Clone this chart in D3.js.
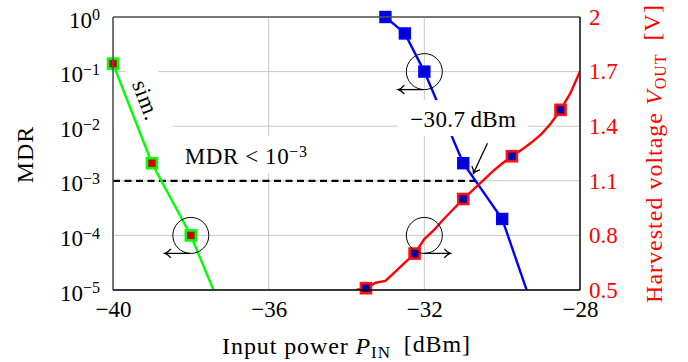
<!DOCTYPE html>
<html>
<head>
<meta charset="utf-8">
<script src="https://cdn.jsdelivr.net/npm/d3@7"></script>
<style>
  body { margin: 0; background: #fff; }
  svg { display: block; }
  text { font-family: "Liberation Serif", "Times New Roman", serif; }
</style>
</head>
<body>
<div id="chart"></div>
<script>
// Ticks
const pinTicks = [-40, -36, -32, -28];
const mdrTicks = [1e-5, 1e-4, 1e-3, 1e-2, 1e-1, 1];
const voutTicks = [0.5, 0.8, 1.1, 1.4, 1.7, 2];

// MDR, simulation (green)
const simPin = [-40, -39, -38, -37];
const simMdr = [0.14, 2.1e-3, 1e-4, 1.9e-6];

// MDR, measured (blue)
const measPin = [-33, -32.5, -32, -31, -30, -29];
const measMdr = [1, 0.5, 0.1, 2.1e-3, 2e-4, 1.7e-6];

// Harvested voltage (red)
const voutPin = [-33.75, -33.5, -33.25, -33, -32.75, -32.5, -32.25, -32, -31.75, -31.5, -31.25, -31,
                 -30.75, -30.5, -30.25, -30, -29.75, -29.5, -29.25, -29, -28.75, -28.5, -28.25, -28];
const vout = [0.50, 0.51, 0.54, 0.55, 0.60, 0.65, 0.70, 0.78, 0.83, 0.89, 0.945, 1.00,
              1.05, 1.10, 1.15, 1.195, 1.235, 1.27, 1.31, 1.355, 1.415, 1.49, 1.58, 1.70];
const voutMarkPin = [-33.5, -32.25, -31, -29.75, -28.5];

const mdrTarget = 1e-3;
const crossPin = -30.7;

// dimensions
const margin = {top: 17, right: 108, bottom: 72, left: 113},
    width = 688 - margin.left - margin.right,
    height = 362 - margin.top - margin.bottom;

const svg = d3.select("#chart").append("svg")
    .attr("width", 688).attr("height", 362)
  .append("g")
    .attr("transform", `translate(${margin.left},${margin.top})`);

const x = d3.scaleLinear().domain([-40, -28]).range([0, width]);
const yL = d3.scaleLog().domain([1e-5, 1]).range([height, 0]);
const yR = d3.scaleLinear().domain([0.5, 2]).range([height, 0]);

svg.append("clipPath").attr("id", "clip")
  .append("rect").attr("width", width).attr("height", height);

// grid
svg.append("g").selectAll("line").data(pinTicks).join("line")
    .attr("x1", d => x(d)).attr("x2", d => x(d))
    .attr("y1", 0).attr("y2", height)
    .attr("stroke", "#c8c8c8").attr("stroke-width", 1);
svg.append("g").selectAll("line").data(mdrTicks).join("line")
    .attr("x1", 0).attr("x2", width)
    .attr("y1", d => yL(d)).attr("y2", d => yL(d))
    .attr("stroke", "#c8c8c8").attr("stroke-width", 1);

// white boxes behind labels
const simLab = svg.append("g").attr("clip-path", "url(#clip)")
  .append("g")
    .attr("transform", `translate(${x(-39.15)},${yL(0.030)}) rotate(69)`);
simLab.append("rect").attr("x", -34).attr("y", -22).attr("width", 68).attr("height", 64).attr("fill", "#fff");

const mdrLab = svg.append("g").attr("transform", `translate(${x(-36.58)},${yL(0.0028)})`);
mdrLab.append("rect").attr("x", -74).attr("y", -21).attr("width", 148).attr("height", 38).attr("fill", "#fff");

// dashed target line
svg.append("line")
    .attr("x1", x(-40)).attr("x2", x(crossPin))
    .attr("y1", yL(mdrTarget)).attr("y2", yL(mdrTarget))
    .attr("stroke", "#000").attr("stroke-width", 2.2)
    .attr("stroke-dasharray", "7,4.5");

const plot = svg.append("g").attr("clip-path", "url(#clip)");

const lineL = d3.line().x(d => x(d[0])).y(d => yL(d[1]));
const lineR = d3.line().x(d => x(d[0])).y(d => yR(d[1]));

plot.append("path").datum(d3.zip(simPin, simMdr))
    .attr("d", lineL).attr("fill", "none")
    .attr("stroke", "#00ff00").attr("stroke-width", 2.4);
plot.append("path").datum(d3.zip(measPin, measMdr))
    .attr("d", lineL).attr("fill", "none")
    .attr("stroke", "#0000ff").attr("stroke-width", 2.4);
plot.append("path").datum(d3.zip(voutPin, vout))
    .attr("d", lineR).attr("fill", "none")
    .attr("stroke", "#ff0000").attr("stroke-width", 2.4);

// markers
const inL = d => d[1] >= 1e-5;
svg.append("g").selectAll("rect").data(d3.zip(simPin, simMdr).filter(inL)).join("rect")
    .attr("x", d => x(d[0]) - 5).attr("y", d => yL(d[1]) - 5)
    .attr("width", 10).attr("height", 10)
    .attr("fill", "#cc0000").attr("stroke", "#00ff00").attr("stroke-width", 2.6);
svg.append("g").selectAll("rect").data(d3.zip(measPin, measMdr).filter(inL)).join("rect")
    .attr("x", d => x(d[0]) - 5).attr("y", d => yL(d[1]) - 5)
    .attr("width", 10).attr("height", 10)
    .attr("fill", "#0000cc").attr("stroke", "#0000ff").attr("stroke-width", 2.4);
const redMarks = d3.zip(voutPin, vout).filter(d => voutMarkPin.includes(d[0]));
svg.append("g").selectAll("rect").data(redMarks).join("rect")
    .attr("x", d => x(d[0]) - 5).attr("y", d => yR(d[1]) - 5)
    .attr("width", 10).attr("height", 10)
    .attr("fill", "#0000aa").attr("stroke", "#ff1010").attr("stroke-width", 2.6);

// -30.7 dBm label box (covers blue line)
const crossLab = svg.append("g").attr("transform", `translate(${x(-31)},${yL(0.0135)})`);
crossLab.append("rect").attr("x", -65).attr("y", -19).attr("width", 130).attr("height", 36).attr("fill", "#fff");
crossLab.append("text").attr("text-anchor", "middle").attr("dy", "0.33em")
    .attr("font-size", 23).attr("letter-spacing", 0.4).text("\u221230.7\u2009dBm");

// arrow head
const defs = svg.append("defs");
defs.append("marker").attr("id", "arr")
    .attr("viewBox", "-8 -6 10 12").attr("markerWidth", 10).attr("markerHeight", 12)
    .attr("refX", 0).attr("refY", 0).attr("orient", "auto").attr("markerUnits", "userSpaceOnUse")
  .append("path").attr("d", "M-6,-4.5 Q-3,-0.8 0,0 Q-3,0.8 -6,4.5")
    .attr("fill", "none").attr("stroke", "#000").attr("stroke-width", 1.3);

// circles with arrows
const r = 18;
const circles = [
  {cx: x(-38), cy: yL(1e-4), dir: -1},
  {cx: x(-32), cy: yL(0.1), dir: -1},
  {cx: x(-32), cy: yR(0.8), dir: 1}
];
circles.forEach(c => {
  svg.append("circle").attr("cx", c.cx).attr("cy", c.cy).attr("r", r)
      .attr("fill", "none").attr("stroke", "#000").attr("stroke-width", 1);
  svg.append("line")
      .attr("x1", c.cx - (c.dir < 0 ? 1 : 0)).attr("x2", c.cx + c.dir * 26)
      .attr("y1", c.cy + r).attr("y2", c.cy + r)
      .attr("stroke", "#000").attr("stroke-width", 1.3).attr("marker-end", "url(#arr)");
});

// arrow to crossing point
svg.append("line")
    .attr("x1", x(crossPin) + 12.5).attr("y1", yL(mdrTarget) - 37.5)
    .attr("x2", x(crossPin) - 1.5).attr("y2", yL(mdrTarget) - 7.5)
    .attr("stroke", "#000").attr("stroke-width", 1.3).attr("marker-end", "url(#arr)");

// labels in plot
simLab.append("text").attr("text-anchor", "middle").attr("dy", "0.33em")
    .attr("font-size", 23).attr("letter-spacing", 0.5).text("sim.");
const mt = mdrLab.append("text").attr("text-anchor", "middle").attr("font-size", 23).attr("dy", "0.33em")
    .attr("letter-spacing", 0.6);
mt.append("tspan").text("MDR < 10");
mt.append("tspan").attr("dy", "-0.45em").attr("font-size", 16).text("\u22123");

// spines
svg.append("line").attr("x1", 0).attr("x2", width).attr("y1", 0).attr("y2", 0)
    .attr("stroke", "#555").attr("stroke-width", 1.6);
svg.append("line").attr("x1", 0).attr("x2", 0).attr("y1", 0).attr("y2", height)
    .attr("stroke", "#555").attr("stroke-width", 1.6);
svg.append("line").attr("x1", 0).attr("x2", width).attr("y1", height).attr("y2", height)
    .attr("stroke", "#000").attr("stroke-width", 1.4);
svg.append("line").attr("x1", width).attr("x2", width).attr("y1", 0).attr("y2", height)
    .attr("stroke", "#000").attr("stroke-width", 1.4);

// axes
const gx = svg.append("g").attr("transform", `translate(0,${height})`)
    .call(d3.axisBottom(x).tickValues(pinTicks).tickSize(0).tickPadding(10.5).tickFormat(d3.format("")));
const gl = svg.append("g")
    .call(d3.axisLeft(yL).tickValues(mdrTicks).tickSize(0).tickPadding(13));
const gr = svg.append("g").attr("transform", `translate(${width},0)`)
    .call(d3.axisRight(yR).tickValues(voutTicks).tickSize(0).tickPadding(9).tickFormat(d3.format("")));
[gx, gl, gr].forEach(g => {
  g.select(".domain").remove();
  g.selectAll("text").attr("font-size", 23).attr("font-family", "Liberation Serif, serif").attr("fill", "#000");
});
gr.selectAll("text").attr("fill", "#ff0000");
gl.selectAll(".tick text").each(function(d) {
  const t = d3.select(this).text(null).attr("dy", "0.44em");
  t.append("tspan").text("10");
  t.append("tspan").attr("dy", "-0.45em").attr("font-size", 16)
      .text(d3.format("")(Math.round(Math.log10(d))));
});

// axis titles
svg.append("text")
    .attr("transform", `translate(${-margin.left + 33},${height / 2 + 1}) rotate(-90)`)
    .attr("text-anchor", "middle").attr("font-size", 24).attr("letter-spacing", 1)
    .text("MDR");

const xt = svg.append("text")
    .attr("x", width / 2).attr("y", height + 64)
    .attr("text-anchor", "middle").attr("font-size", 24).attr("letter-spacing", 0.9);
xt.append("tspan").text("Input power ");
xt.append("tspan").attr("font-style", "italic").text("P");
xt.append("tspan").attr("font-size", 17).attr("dy", "0.25em").text("IN");
xt.append("tspan").attr("dy", "-0.25em").text("\u2002[dBm]");

const yt = svg.append("text")
    .attr("transform", `translate(${width + 82},${height / 2}) rotate(-90)`)
    .attr("text-anchor", "middle").attr("font-size", 24).attr("letter-spacing", 1)
    .attr("fill", "#ff0000");
yt.append("tspan").text("Harvested voltage ");
yt.append("tspan").attr("font-style", "italic").text("V");
yt.append("tspan").attr("font-size", 16).attr("dy", "0.25em").text("OUT");
yt.append("tspan").attr("dy", "-0.25em").text("\u2002[V]");
</script>
</body>
</html>
